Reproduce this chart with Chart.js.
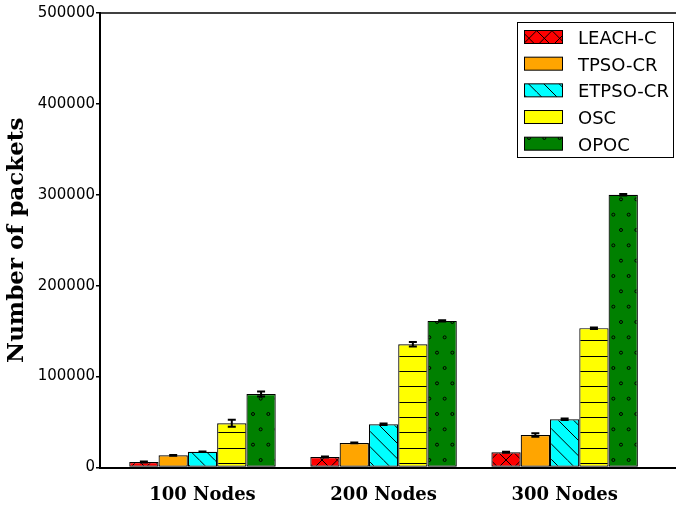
<!DOCTYPE html>
<html><head><meta charset="utf-8">
<script src="https://cdn.jsdelivr.net/npm/chart.js@4/dist/chart.umd.min.js"></script>
<style>html,body{margin:0;padding:0;background:#fff;}#wrap{width:676px;height:505px;}</style>
</head><body><div id="wrap"><canvas id="c" width="676" height="505"></canvas></div>
<script>
const categories = ['100 Nodes', '200 Nodes', '300 Nodes'];
const seriesNames = ['LEACH-C', 'TPSO-CR', 'ETPSO-CR', 'OSC', 'OPOC'];
const leachC  = [6000, 11600, 16700];
const tpsoCR  = [13400, 27000, 35800];
const etpsoCR = [17400, 47600, 53100];
const osc     = [48700, 135600, 153300];
const opoc    = [80900, 161300, 300000];
const leachCErr  = [500, 500, 500];
const tpsoCRErr  = [400, 400, 2000];
const etpsoCRErr = [300, 900, 800];
const oscErr     = [3850, 2500, 800];
const opocErr    = [2750, 800, 800];
const yTicks = [0, 100000, 200000, 300000, 400000, 500000];

const colors = ['#ff0000', '#ffa500', '#00ffff', '#ffff00', '#008000'];
const hatches = ['x', null, '\\', '-', 'o'];
const values = [leachC, tpsoCR, etpsoCR, osc, opoc];
const errs = [leachCErr, tpsoCRErr, etpsoCRErr, oscErr, opocErr];

function makePattern(bg, kind) {
  const w = 46, h = kind === 'o' ? 92 : 46, s = 46 / 3;
  const cv = document.createElement('canvas'); cv.width = w; cv.height = h;
  const g = cv.getContext('2d');
  g.fillStyle = bg; g.fillRect(0, 0, w, h);
  g.strokeStyle = '#000'; g.lineWidth = 1;
  if (kind === '-') {
    for (let k = 0; k < 3; k++) { const y = Math.round(3 + k * s) + 0.5; g.beginPath(); g.moveTo(0, y); g.lineTo(w, y); g.stroke(); }
  }
  if (kind === '\\' || kind === 'x') {
    for (let k = -3; k <= 3; k++) { const c0 = k * s; g.beginPath(); g.moveTo(c0, 0); g.lineTo(c0 + w, h); g.stroke(); }
  }
  if (kind === 'x') {
    for (let k = -3; k <= 3; k++) { const c0 = k * s; g.beginPath(); g.moveTo(c0, h); g.lineTo(c0 + w, 0); g.stroke(); }
  }
  if (kind === 'o') {
    for (let r = 0; r <= 6; r++) {
      const y = r * s, off = (r % 2) ? s / 2 : 0;
      for (let k = -1; k <= 3; k++) {
        const x = off + k * s;
        g.beginPath(); g.arc(x, y, 1.5, 0, Math.PI * 2); g.stroke();
      }
    }
  }
  return g.createPattern(cv, 'repeat');
}

const fills = colors.map((c, i) => hatches[i] ? makePattern(c, hatches[i]) : c);

const errorBars = {
  id: 'errorBars',
  afterDatasetsDraw(chart) {
    const ctx = chart.ctx, ys = chart.scales.y;
    chart.data.datasets.forEach((ds, i) => {
      const meta = chart.getDatasetMeta(i);
      meta.data.forEach((bar, j) => {
        const v = ds.data[j].y, e = ds.errors[j];
        const yt = ys.getPixelForValue(v + e), yb = ys.getPixelForValue(v - e);
        ctx.save(); ctx.strokeStyle = '#000'; ctx.lineWidth = 2;
        ctx.beginPath();
        ctx.moveTo(bar.x, yt); ctx.lineTo(bar.x, yb);
        ctx.moveTo(bar.x - 4, yt); ctx.lineTo(bar.x + 4, yt);
        ctx.moveTo(bar.x - 4, yb); ctx.lineTo(bar.x + 4, yb);
        ctx.stroke(); ctx.restore();
      });
    });
  }
};

const frameAndLegend = {
  id: 'frameAndLegend',
  afterDraw(chart) {
    const ctx = chart.ctx, a = chart.chartArea;
    ctx.save();
    ctx.strokeStyle = '#000'; ctx.lineWidth = 1.5;
    ctx.beginPath(); ctx.moveTo(a.left - 1, a.top); ctx.lineTo(a.right, a.top); ctx.stroke();
    // legend
    const lx = 517, ly = 22.5, lw = 156, lh = 135;
    ctx.fillStyle = '#fff'; ctx.fillRect(lx, ly, lw, lh);
    ctx.lineWidth = 1; ctx.strokeStyle = '#000';
    ctx.strokeRect(lx + 0.5, ly, lw, lh);
    ctx.font = '18px "DejaVu Sans"'; ctx.textBaseline = 'alphabetic'; ctx.textAlign = 'left';
    chart.data.datasets.forEach((ds, i) => {
      const cy = 37 + i * 26.67;
      ctx.fillStyle = ds.backgroundColor;
      ctx.fillRect(524, cy - 6.5, 38, 13);
      ctx.strokeStyle = '#000'; ctx.lineWidth = 1;
      ctx.strokeRect(524.5, cy - 6.5, 38, 13);
      ctx.fillStyle = '#000';
      ctx.fillText(ds.label, 578, cy + 7);
    });
    ctx.restore();
  }
};

new Chart(document.getElementById('c'), {
  type: 'bar',
  data: {
    datasets: seriesNames.map((name, i) => ({
      label: name,
      data: values[i].map((v, j) => ({ x: j, y: v })),
      errors: errs[i],
      backgroundColor: fills[i],
      borderColor: '#000',
      borderWidth: 1.2,
      borderSkipped: false,
      categoryPercentage: 0.809,
      barPercentage: 1
    }))
  },
  options: {
    responsive: false, animation: false, devicePixelRatio: 1,
    layout: { padding: { left: 0, top: 13, right: 0, bottom: 0 } },
    plugins: { legend: { display: false }, tooltip: { enabled: false } },
    scales: {
      x: {
        type: 'linear', min: -0.566, max: 2.615, offset: false,
        afterBuildTicks: s => { s.ticks = categories.map((_, i) => ({ value: i })); },
        afterFit: s => { s.height = 37.5; },
        grid: { display: false, drawTicks: false },
        border: { display: true, color: '#000', width: 2 },
        ticks: {
          callback: v => categories[v] !== undefined ? categories[v] : '',
          font: { family: 'DejaVu Serif', weight: 'bold', size: 18 },
          color: '#000', padding: 17, maxRotation: 0, autoSkip: false
        }
      },
      y: {
        min: 0, max: 500000,
        afterBuildTicks: s => { s.ticks = yTicks.map(v => ({ value: v })); },
        afterFit: s => { s.width = 100; },
        grid: { drawOnChartArea: false, drawTicks: true, tickLength: 4, color: '#000', lineWidth: 1.5 },
        border: { color: '#000', width: 2 },
        ticks: { callback: v => String(v), font: { family: 'DejaVu Sans', size: 15 }, color: '#000', padding: 1 },
        title: {
          display: true, text: 'Number of packets',
          font: { family: 'DejaVu Serif', weight: 'bold', size: 23 }, color: '#000',
          padding: { top: 3, bottom: 0 }
        }
      }
    }
  },
  plugins: [errorBars, frameAndLegend]
});
</script>
</body></html>
